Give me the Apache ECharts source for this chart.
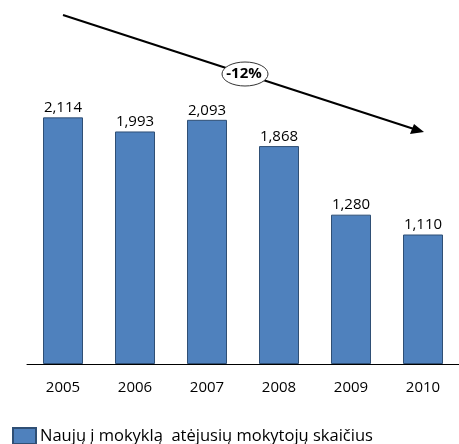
<!DOCTYPE html>
<html><head><meta charset="utf-8">
<script src="https://cdn.jsdelivr.net/npm/echarts@6/dist/echarts.min.js"></script>
<style>html,body{margin:0;padding:0;background:#fff}#c{width:459px;height:444px}</style>
</head><body><div id="c"></div>
<script>
var categories = ['2005','2006','2007','2008','2009','2010'];
var teachers = [2114, 1993, 2093, 1868, 1280, 1110];
var seriesName = 'Naujų į mokyklą  atėjusių mokytojų skaičius';
var changeLabel = '-12%';

var chart = echarts.init(document.getElementById('c'));
chart.setOption({
  animation: false,
  textStyle: { fontFamily: 'Open Sans, sans-serif' },
  grid: { left: 27, right: 0, top: 14, bottom: 80 },
  legend: {
    left: 12, top: 427, padding: 0, itemWidth: 23, itemHeight: 16, itemGap: 4,
    selectedMode: false,
    textStyle: { fontSize: 16.5, lineHeight: 16, color: '#000', fontFamily: 'Open Sans, sans-serif', padding: [0,0,0,-1] },
    data: [{ name: seriesName, icon: 'rect' }]
  },
  xAxis: {
    type: 'category', data: categories,
    axisLine: { lineStyle: { color: '#000', width: 1 } },
    axisTick: { show: false },
    axisLabel: { color: '#000', fontSize: 15, margin: 16 }
  },
  yAxis: { type: 'value', min: 0, max: 3000, show: false, splitLine: { show: false } },
  series: [{
    name: seriesName, type: 'bar', data: teachers, barWidth: 40,
    itemStyle: { color: '#4F81BD', borderColor: '#2F4F75', borderWidth: 1 },
    label: {
      show: true, position: 'top', distance: 2, color: '#000', fontSize: 15,
      formatter: function (p) { return p.value.toLocaleString('en-US'); }
    }
  }],
  graphic: [
    { type: 'line', shape: { x1: 63, y1: 15, x2: 414, y2: 129 }, style: { stroke: '#000', lineWidth: 2 }, z: 10 },
    { type: 'polygon', shape: { points: [[424, 132], [410, 134], [414, 124]] }, style: { fill: '#000' }, z: 10 },
    { type: 'ellipse', shape: { cx: 245, cy: 74, rx: 23, ry: 12 }, style: { fill: '#fff', stroke: '#333', lineWidth: 1 }, z: 11 },
    { type: 'text', x: 244, y: 74, style: { text: changeLabel, fill: '#000', font: 'bold 15px Open Sans, sans-serif', align: 'center', verticalAlign: 'middle' }, z: 12 }
  ]
});
</script></body></html>
